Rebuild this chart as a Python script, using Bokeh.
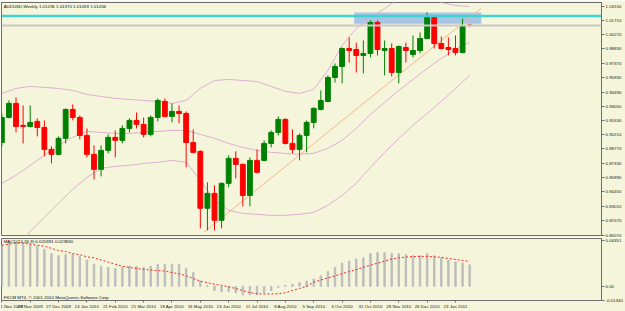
from bokeh.plotting import figure
from bokeh.layouts import column
from bokeh.models import ColumnDataSource, FixedTicker, Label, Range1d, Span
from bokeh.embed import file_html
from bokeh.resources import INLINE

# ---------------- data ----------------
symbol = "AUDUSD"
timeframe = "Weekly"

opens = [0.8942, 0.9194, 0.9335, 0.9114, 0.9103, 0.9154, 0.9093, 0.8872, 0.8822, 0.8983,
         0.9274, 0.9194, 0.9013, 0.8822, 0.8671, 0.8862, 0.8993, 0.8963, 0.9083, 0.9164,
         0.9124, 0.9023, 0.9194, 0.9355, 0.9204, 0.9254, 0.9234, 0.8942, 0.8852, 0.8279,
         0.8429, 0.8158, 0.8530, 0.8782, 0.8721, 0.8409, 0.8761, 0.8761, 0.8932, 0.9043,
         0.9174, 0.8932, 0.8872, 0.9013, 0.9144, 0.9274, 0.9355, 0.9596, 0.9707, 0.9888,
         0.9878, 0.9818, 0.9838, 1.0150, 0.9868, 0.9888, 0.9647, 0.9898, 0.9828, 0.9868,
         0.9989, 1.0200, 0.9938, 0.9898, 0.9888, 0.9848, 1.01236]
highs = [0.9234, 0.9365, 0.9395, 0.9315, 0.9315, 0.9184, 0.9164, 0.8902, 0.9003, 0.9285,
         0.9325, 0.9214, 0.9083, 0.8912, 0.8912, 0.9023, 0.9063, 0.9114, 0.9184, 0.9244,
         0.9194, 0.9214, 0.9385, 0.9385, 0.9335, 0.9315, 0.9254, 0.9073, 0.8862, 0.8540,
         0.8510, 0.8540, 0.8812, 0.8852, 0.8731, 0.8792, 0.8872, 0.8963, 0.9063, 0.9204,
         0.9184, 0.9073, 0.9033, 0.9164, 0.9295, 0.9466, 0.9617, 0.9737, 0.9898, 0.9999,
         0.9948, 0.9969, 1.0170, 1.0170, 0.9969, 0.9938, 0.9918, 0.9948, 1.0019, 1.0049,
         1.0250, 1.0210, 1.0009, 0.9999, 1.0019, 1.0190, 1.01370]
lows = [0.8902, 0.9184, 0.9043, 0.8932, 0.9093, 0.9003, 0.8802, 0.8731, 0.8812, 0.8932,
        0.9164, 0.8973, 0.8792, 0.8570, 0.8600, 0.8832, 0.8792, 0.8932, 0.9043, 0.9083,
        0.8993, 0.9003, 0.9154, 0.9194, 0.9144, 0.9134, 0.8691, 0.8832, 0.8077, 0.8057,
        0.8057, 0.8077, 0.8490, 0.8580, 0.8299, 0.8299, 0.8631, 0.8751, 0.8892, 0.9013,
        0.8922, 0.8832, 0.8761, 0.8842, 0.9083, 0.9264, 0.9345, 0.9546, 0.9536, 0.9747,
        0.9647, 0.9637, 0.9798, 0.9818, 0.9617, 0.9606, 0.9536, 0.9747, 0.9798, 0.9838,
        0.9979, 0.9888, 0.9878, 0.9818, 0.9818, 0.9838, 1.01059]
closes = [0.9194, 0.9335, 0.9103, 0.9103, 0.9144, 0.9093, 0.8872, 0.8822, 0.8983, 0.9274,
          0.9194, 0.9013, 0.8822, 0.8671, 0.8862, 0.8993, 0.8963, 0.9083, 0.9164, 0.9124,
          0.9023, 0.9194, 0.9365, 0.9204, 0.9254, 0.9234, 0.8942, 0.8842, 0.8279, 0.8429,
          0.8158, 0.8530, 0.8782, 0.8721, 0.8409, 0.8761, 0.8641, 0.8932, 0.9043, 0.9174,
          0.8932, 0.8872, 0.9013, 0.9144, 0.9285, 0.9365, 0.9596, 0.9707, 0.9888, 0.9868,
          0.9818, 0.9838, 1.0150, 0.9878, 0.9888, 0.9647, 0.9908, 0.9868, 0.9868, 0.9989,
          1.0200, 0.9938, 0.9888, 0.9878, 0.9848, 1.0109, 1.01206]

# Bollinger bands, read at every second bar
bb_bars = list(range(0, 67, 2))
bb_upper = [0.9435, 0.9486, 0.9506, 0.9496, 0.9486, 0.9466, 0.9425, 0.9405, 0.9385, 0.9375,
            0.9365, 0.9355, 0.9335, 0.9365, 0.9486, 0.9566, 0.9576, 0.9566, 0.9556, 0.9506,
            0.9456, 0.9435, 0.9476, 0.9667, 0.9918, 1.0089, 1.0200, 1.0291, 1.0391, 1.0431,
            1.0411, 1.0351, 1.0321, 1.0311]
bb_middle = [0.8530, 0.8611, 0.8711, 0.8812, 0.8912, 0.8993, 0.9053, 0.9043, 0.9033, 0.9033,
             0.9043, 0.9053, 0.9063, 0.9063, 0.9023, 0.8983, 0.8932, 0.8892, 0.8862, 0.8842,
             0.8832, 0.8822, 0.8832, 0.8882, 0.8963, 0.9083, 0.9224, 0.9345, 0.9466, 0.9576,
             0.9687, 0.9788, 0.9878, 0.9948]
bb_lower = [0.7705, 0.7856, 0.8047, 0.8188, 0.8329, 0.8470, 0.8590, 0.8681, 0.8701, 0.8711,
            0.8731, 0.8741, 0.8761, 0.8741, 0.8560, 0.8359, 0.8258, 0.8228, 0.8218, 0.8208,
            0.8208, 0.8218, 0.8238, 0.8309, 0.8409, 0.8530, 0.8691, 0.8842, 0.8983, 0.9114,
            0.9234, 0.9355, 0.9486, 0.9617]

# hand drawn objects
trend_bars = [28.5, 67.6]
trend_prices = [0.8037, 1.0291]
rect_bars = [49.7, 67.65]
rect_prices = [1.0137, 1.0250]
level_line = 1.0215

# MACD(12,26,9)
macd = [0.039, 0.041, 0.041, 0.040, 0.040, 0.038, 0.035, 0.031, 0.029, 0.030,
        0.030, 0.028, 0.025, 0.021, 0.019, 0.018, 0.017, 0.018, 0.019, 0.019,
        0.018, 0.019, 0.021, 0.021, 0.021, 0.021, 0.017, 0.013, 0.005, 0.0005,
        -0.004, -0.005, -0.005, -0.006, -0.008, -0.008, -0.008, -0.006, -0.004, -0.001,
        0.001, 0.002, 0.0035, 0.005, 0.007, 0.010, 0.014, 0.018, 0.022, 0.024,
        0.026, 0.027, 0.031, 0.032, 0.032, 0.031, 0.031, 0.030, 0.029, 0.029,
        0.031, 0.029, 0.027, 0.025, 0.023, 0.022, 0.0204]
signal = [0.039, 0.040, 0.041, 0.041, 0.040, 0.039, 0.038, 0.036, 0.034, 0.033,
          0.031, 0.030, 0.028, 0.027, 0.025, 0.023, 0.021, 0.019, 0.018, 0.017,
          0.016, 0.0155, 0.015, 0.0145, 0.013, 0.012, 0.010, 0.0075, 0.005, 0.0035,
          0.002, 0.001, -0.0005, -0.002, -0.004, -0.006, -0.007, -0.0072, -0.0072, -0.007,
          -0.006, -0.004, -0.002, 0.000, 0.004, 0.006, 0.008, 0.010, 0.012, 0.014,
          0.016, 0.018, 0.020, 0.022, 0.024, 0.026, 0.027, 0.0278, 0.0282, 0.0284,
          0.0284, 0.028, 0.0275, 0.0265, 0.0255, 0.0245, 0.0238]
macd_title = "MACD(12,26,9) 0.020391 0.023830"
copyright_text = "FXCM MT4, \u00a9 2001-2010 MetaQuotes Software Corp."

price_ticks = [0.80070, 0.81570, 0.83010, 0.84450, 0.85890, 0.87330, 0.88770, 0.90210,
               0.91630, 0.93050, 0.94490, 0.95930, 0.97370, 0.98830, 1.00270, 1.01710, 1.03150]
macd_ticks = [0.04351, 0.0, -0.01338]
macd_tick_labels = ["0.04351", "0.00", "-0.01340"]

date_ticks = list(range(0, 65, 4))
date_labels = ["1 Nov 2009", "29 Nov 2009", "27 Dec 2009", "24 Jan 2010", "21 Feb 2010",
               "21 Mar 2010", "18 Apr 2010", "16 May 2010", "13 Jun 2010", "11 Jul 2010",
               "8 Aug 2010", "5 Sep 2010", "3 Oct 2010", "31 Oct 2010", "28 Nov 2010",
               "26 Dec 2010", "23 Jan 2011"]

# ---------------- styling ----------------
BG = "#f5f5dc"
FRAME = "#6e6e6e"
FONT = "Liberation Sans"
FS = "4.4px"
UP = "#008000"
DOWN = "#ff0000"
BAND = "#dfaed0"
TREND = "#f4b68a"

bars = list(range(len(opens)))
X0, X1 = -0.05, 84.6
Y0, Y1 = 0.8005, 1.0351

p1 = figure(width=625, height=237, x_range=Range1d(X0, X1), y_range=Range1d(Y0, Y1),
            output_backend="svg", toolbar_location=None, x_axis_location=None,
            y_axis_location="right", min_border_left=1, min_border_right=22,
            min_border_top=2, min_border_bottom=2, background_fill_color=BG,
            border_fill_color=BG, outline_line_color=FRAME)
p1.grid.visible = False


def style_yaxis(ax):
    ax.major_label_text_font = FONT
    ax.major_label_text_font_size = FS
    ax.major_label_text_color = "#222222"
    ax.major_tick_out = 3
    ax.major_tick_in = 0
    ax.minor_tick_out = 0
    ax.minor_tick_in = 0
    ax.axis_line_color = FRAME
    ax.major_tick_line_color = FRAME
    ax.major_label_standoff = 1


ya = p1.yaxis[0]
ya.ticker = FixedTicker(ticks=price_ticks)
ya.major_label_overrides = {t: f"{t:.5f}" for t in price_ticks}
style_yaxis(ya)

# rectangle object (background)
p1.quad(left=[rect_bars[0]], right=[rect_bars[1]], bottom=[rect_prices[0]], top=[rect_prices[1]],
        fill_color="#a9c5e6", line_color=None)

# bands and trendline
p1.line(bb_bars, bb_upper, color=BAND, line_width=1)
p1.line(bb_bars, bb_middle, color=BAND, line_width=1)
p1.line(bb_bars, bb_lower, color=BAND, line_width=1)
p1.line(trend_bars, trend_prices, color=TREND, line_width=1)

# candles
src = ColumnDataSource(dict(
    bar=bars, high=highs, low=lows,
    top=[max(o, c) for o, c in zip(opens, closes)],
    bottom=[min(o, c) for o, c in zip(opens, closes)],
    color=[UP if c > o else DOWN for o, c in zip(opens, closes)],
))
p1.segment(x0="bar", y0="low", x1="bar", y1="high", color="color", line_width=1, source=src)
p1.vbar(x="bar", width=0.68, top="top", bottom="bottom", fill_color="color",
        line_color="color", line_width=1, source=src)

# horizontal lines
p1.add_layout(Span(location=level_line, dimension="width", line_color="#3fd3d3", line_width=2.5))
p1.add_layout(Span(location=closes[-1], dimension="width", line_color="#c9c9c9", line_width=2))

# title
title = f"{symbol},{timeframe}  {opens[-1]:.5f} {highs[-1]:.5f} {lows[-1]:.5f} {closes[-1]:.5f}"
p1.add_layout(Label(x=X0 + 0.3, y=Y1 - 0.0012, text=title, text_font=FONT, text_font_size=FS,
                    text_baseline="top", text_color="#111111"))

# price markers on the axis
p1.add_layout(Label(x=X1, y=level_line, x_offset=3, text=f"{level_line:.5f}", text_font=FONT,
                    text_font_size=FS, text_baseline="middle", text_color="#000000",
                    background_fill_color="#3fd3d3"))
p1.add_layout(Label(x=X1, y=closes[-1], x_offset=3, text=f"{closes[-1]:.5f}", text_font=FONT,
                    text_font_size=FS, text_baseline="middle", text_color="#ffffff",
                    background_fill_color="#000000"))

# ---------------- MACD panel ----------------
M0, M1 = -0.0134, 0.04535
p2 = figure(width=625, height=74, x_range=p1.x_range, y_range=Range1d(M0, M1),
            output_backend="svg", toolbar_location=None, y_axis_location="right",
            min_border_left=1, min_border_right=22, min_border_top=1, min_border_bottom=9,
            background_fill_color=BG, border_fill_color=BG, outline_line_color=FRAME)
p2.grid.visible = False

ya2 = p2.yaxis[0]
ya2.ticker = FixedTicker(ticks=macd_ticks)
ya2.major_label_overrides = {t: s for t, s in zip(macd_ticks, macd_tick_labels)}
style_yaxis(ya2)

xa = p2.xaxis[0]
xa.ticker = FixedTicker(ticks=date_ticks)
xa.major_label_overrides = {t: s for t, s in zip(date_ticks, date_labels)}
xa.major_label_text_align = "left"
xa.major_label_text_font = FONT
xa.major_label_text_font_size = FS
xa.major_label_text_color = "#222222"
xa.major_tick_out = 2
xa.major_tick_in = 0
xa.minor_tick_out = 0
xa.minor_tick_in = 0
xa.axis_line_color = FRAME
xa.major_tick_line_color = FRAME
xa.major_label_standoff = 1

p2.vbar(x=bars, top=macd, bottom=0, width=0.2, color="#bdbdbd")
p2.line(bars, signal, color="#ff2020", line_width=1, line_dash="2 2")

p2.add_layout(Label(x=X0 + 0.3, y=M1 - 0.0008, text=macd_title, text_font=FONT,
                    text_font_size=FS, text_baseline="top", text_color="#111111"))
p2.add_layout(Label(x=X0 + 0.3, y=M0 + 0.0006, text=copyright_text, text_font=FONT,
                    text_font_size=FS, text_baseline="bottom", text_color="#111111"))

layout = column(p1, p2, spacing=0)
open("out.html", "w").write(file_html(layout, INLINE))
